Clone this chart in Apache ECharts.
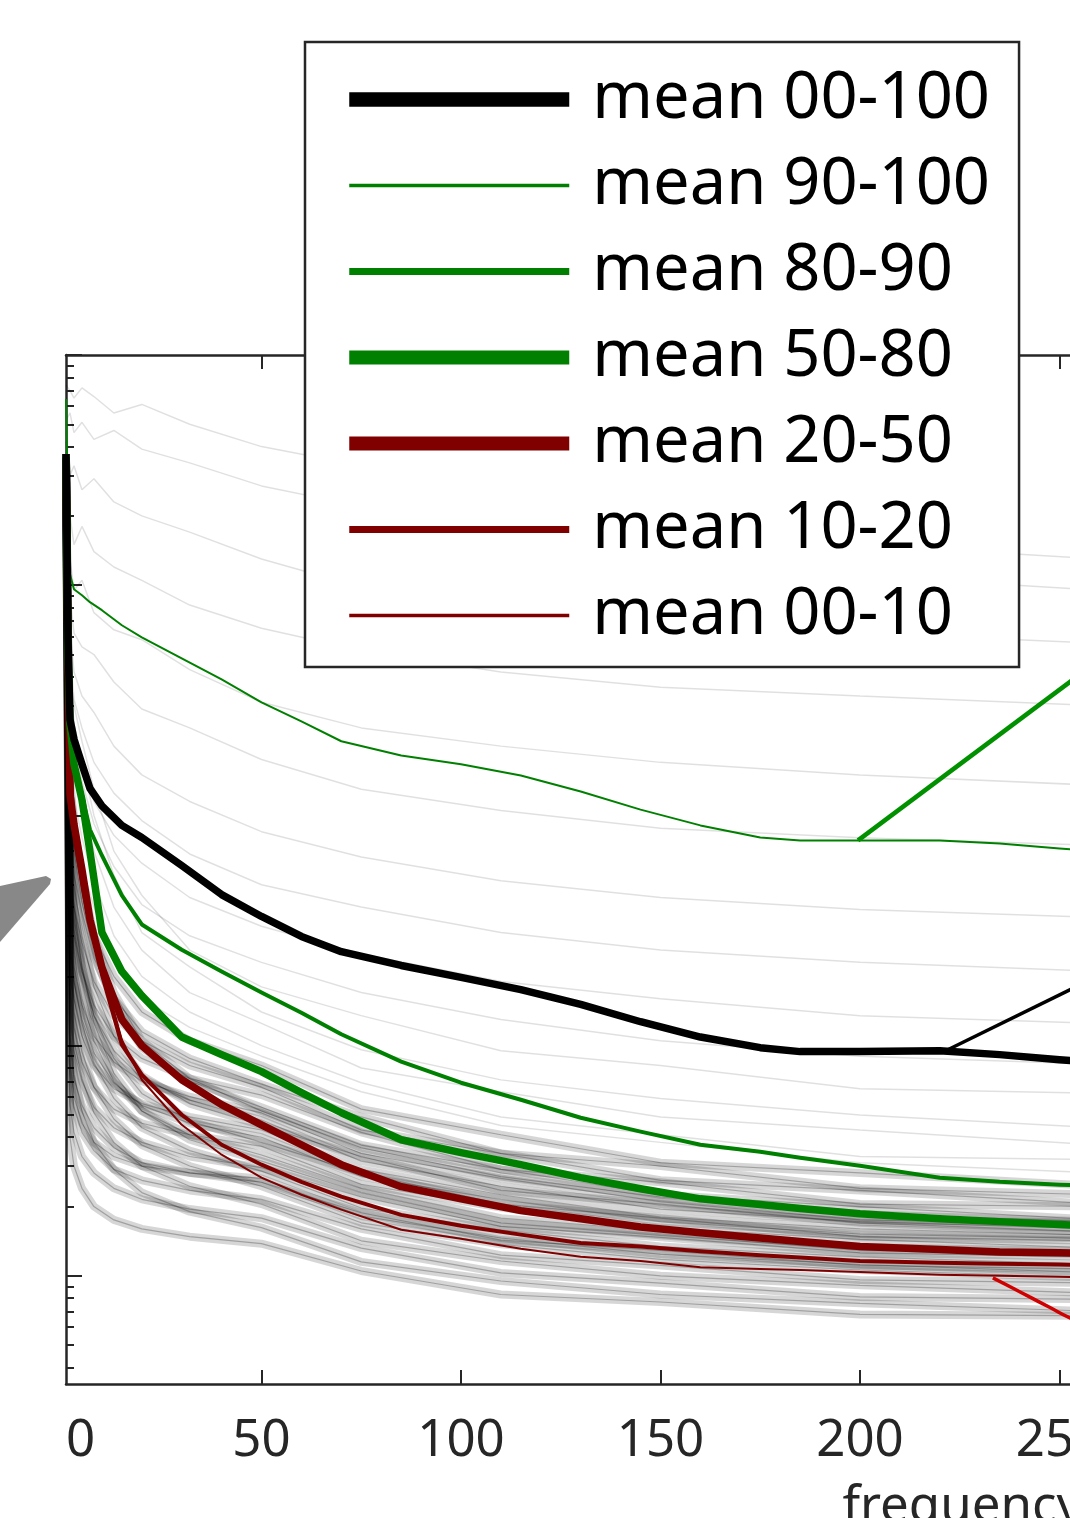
<!DOCTYPE html>
<html><head><meta charset="utf-8">
<script src="https://cdn.jsdelivr.net/npm/echarts@6/dist/echarts.min.js"></script>
<style>html,body{margin:0;padding:0;background:#fff}#c{width:1070px;height:1518px}</style>
</head><body><div id="c"></div>
<script>
// ---------- axis ticks ----------
const xTickValues = [1, 50, 100, 150, 200, 250, 300];
const xTickLabels = ['0', '50', '100', '150', '200', '250', '300'];
const xTickMarks = [50, 100, 150, 200, 250, 300];
const yMajorTicks = [1, 10, 100, 1000, 10000];
const yMinorTicks = [0.4, 0.5, 0.6, 0.7, 0.8, 0.9, 2, 3, 4, 5, 6, 7, 8, 9, 20, 30, 40, 50, 60, 70, 80, 90,
  200, 300, 400, 500, 600, 700, 800, 900, 2000, 3000, 4000, 5000, 6000, 7000, 8000, 9000];

// ---------- mean curves ----------
const freq = [1, 1.5, 2, 3, 5, 7, 10, 15, 20, 30, 40, 50, 60, 70, 85, 100, 115, 130, 145, 160, 175, 185, 200, 220, 235, 250, 270];
const mean00_100 = [3712, 582, 261, 214, 167, 131, 110, 90.5, 80.2, 60.6, 45.3, 36.4, 29.8, 25.6, 22.3, 19.8, 17.5, 15.1, 12.7, 10.9, 9.80, 9.42, 9.42, 9.51, 9.14, 8.69, 8.19];
const mean90_100 = [6440, 1936, 1116, 961, 904, 844, 779, 670, 594, 481, 390, 310, 256, 210, 182, 167, 149, 127, 106, 90.5, 80.2, 77.9, 77.9, 77.9, 75.6, 71.9, 67.0];
const mean80_90 = [3712, 582, 261, 175, 123, 86.9, 67.0, 44.9, 33.6, 26.1, 21.0, 17.0, 13.9, 11.2, 8.52, 6.90, 5.82, 4.86, 4.23, 3.71, 3.46, 3.26, 3.01, 2.67, 2.56, 2.49, 2.44];
const mean50_80 = [3712, 527, 249, 167, 117, 69.7, 31.0, 21.0, 16.5, 10.9, 9.14, 7.71, 6.25, 5.11, 3.90, 3.43, 3.04, 2.67, 2.39, 2.16, 2.04, 1.96, 1.86, 1.77, 1.72, 1.67, 1.62];
const mean20_50 = [3530, 527, 123, 91.4, 58.2, 35.3, 21.8, 13.0, 10.0, 7.11, 5.54, 4.53, 3.71, 3.04, 2.44, 2.16, 1.92, 1.77, 1.63, 1.54, 1.46, 1.41, 1.34, 1.30, 1.27, 1.26, 1.23];
const mean10_20 = [3530, 582, 175, 86.9, 55.4, 37.1, 20.4, 10.1, 7.48, 5.01, 3.71, 3.04, 2.56, 2.21, 1.84, 1.65, 1.51, 1.39, 1.34, 1.28, 1.23, 1.20, 1.16, 1.14, 1.13, 1.12, 1.105];
const mean00_10 = [3530, 477, 143, 78.6, 47.7, 31.9, 21.8, 10.6, 7.11, 4.53, 3.36, 2.67, 2.25, 1.94, 1.585, 1.45, 1.31, 1.21, 1.16, 1.09, 1.07, 1.06, 1.04, 1.01, 1.00, 0.99, 0.98];

// ---------- individual spectra (grey) ----------
const grayFreq = [1, 2, 3, 5, 8, 13, 20, 32, 50, 75, 110, 150, 200, 260, 300];
const g01 = [7400, 7000, 6500, 7200, 6600, 5600, 6100, 5000, 4000, 3300, 2600, 1900, 1500, 1300, 1200];
const g02 = [5200, 5600, 4600, 5100, 4300, 4700, 3900, 3400, 2700, 2200, 1700, 1350, 1100, 950, 880];
const g03 = [4200, 3000, 3300, 2600, 2900, 2300, 2000, 1700, 1300, 980, 800, 720, 620, 560, 540];
const g04 = [3800, 2000, 1500, 1800, 1400, 1200, 1050, 820, 650, 520, 420, 360, 330, 300, 290];
const g05 = [3600, 1300, 950, 1050, 760, 640, 580, 430, 310, 240, 200, 170, 150, 135, 128];
const g06 = [3600, 900, 620, 540, 500, 380, 290, 240, 175, 130, 105, 88, 80, 74, 70];
const g07 = [3500, 650, 420, 330, 280, 200, 150, 115, 85, 66, 52, 44, 39, 36, 34];
const g08 = [3500, 520, 320, 240, 170, 125, 95, 68, 50, 40, 31, 26, 23, 21, 20];
const g09 = [3500, 430, 250, 170, 115, 82, 62, 44, 33, 25, 19, 16, 13.5, 12.5, 12];
const g10 = [3500, 360, 210, 140, 92, 60, 41, 30, 23, 17, 13, 10.5, 9, 8.3, 8];
const m01 = [3500, 420, 300, 210, 130, 70, 45, 26, 18, 13.5, 9.5, 8.2, 6.5, 6.2, 5.6];
const m02 = [3400, 380, 250, 175, 100, 55, 31, 22, 14, 9.6, 7.1, 5.9, 5.0, 4.4, 4.3];
const m03 = [3600, 250, 160, 110, 70, 40, 26, 17, 12.5, 8.0, 6.3, 4.9, 4.3, 3.7, 3.6];
const m04 = [3500, 200, 120, 80, 52, 30, 20, 14, 10, 6.9, 4.9, 4.1, 3.3, 3.2, 3.0];
const m05 = [3400, 150, 95, 60, 40, 24, 16, 12, 9, 6.3, 4.5, 3.8, 3.1, 2.8, 2.7];
const m06 = [3500, 120, 75, 48, 30, 20, 14, 10.5, 8.2, 5.3, 4.1, 3.1, 2.8, 2.45, 2.4];
const m07 = [3600, 90, 55, 38, 24, 16, 11.5, 8.8, 6.8, 4.9, 3.4, 3.0, 2.4, 2.25, 2.1];
const m08 = [3500, 60, 40, 28, 19, 13.5, 10.5, 8.2, 6.6, 4.3, 3.4, 2.6, 2.35, 2.05, 2.0];
const m09 = [3400, 45, 30, 21, 15, 11, 8.8, 7.2, 6.1, 4.2, 2.9, 2.55, 2.05, 2.0, 1.9];
const m10 = [3500, 110, 70, 42, 25, 15, 9.8, 7.0, 5.4, 3.7, 2.9, 2.25, 2.0, 1.75, 1.75];
const m11 = [3600, 35, 22, 15, 11, 8.5, 7.0, 6.0, 5.1, 3.4, 2.65, 2.1, 1.75, 1.7, 1.6];
const m12 = [3500, 80, 50, 30, 18, 11, 7.4, 5.6, 4.5, 3.3, 2.35, 2.05, 1.7, 1.55, 1.52];
const m13 = [3400, 25, 16, 11, 8.2, 6.5, 5.6, 4.9, 4.3, 2.9, 2.25, 1.8, 1.6, 1.5, 1.42];
const m14 = [3500, 60, 36, 22, 13.5, 8.8, 6.2, 4.7, 3.8, 2.8, 2.05, 1.78, 1.48, 1.42, 1.35];
const m15 = [3600, 18, 12, 8.5, 6.6, 5.3, 4.6, 4.1, 3.65, 2.5, 1.98, 1.62, 1.44, 1.32, 1.28];
const m16 = [3500, 40, 25, 16, 10.5, 7.0, 5.2, 4.1, 3.35, 2.4, 1.78, 1.57, 1.33, 1.28, 1.22];
const m17 = [3400, 14, 9.5, 7.0, 5.4, 4.4, 3.8, 3.3, 2.95, 2.2, 1.64, 1.47, 1.26, 1.21, 1.15];
const m18 = [3500, 30, 19, 12.5, 8.4, 5.9, 4.4, 3.5, 2.85, 1.97, 1.58, 1.34, 1.21, 1.12, 1.09];
const m19 = [3600, 10, 7.2, 5.5, 4.4, 3.6, 3.1, 2.8, 2.55, 1.88, 1.43, 1.29, 1.11, 1.07, 1.02];
const m20 = [3500, 22, 14, 9.4, 6.6, 4.8, 3.7, 3.0, 2.45, 1.7, 1.37, 1.18, 1.06, 0.98, 0.96];
const m21 = [3400, 7.5, 5.4, 4.2, 3.5, 2.9, 2.6, 2.35, 2.15, 1.6, 1.23, 1.11, 0.96, 0.93, 0.89];
const m22 = [3500, 16, 10.5, 7.2, 5.1, 3.8, 3.0, 2.45, 2.05, 1.42, 1.16, 1.0, 0.91, 0.84, 0.82];
const m23 = [3600, 5.5, 4.2, 3.3, 2.8, 2.4, 2.15, 1.95, 1.78, 1.32, 1.03, 0.93, 0.81, 0.79, 0.75];
const m24 = [3500, 11, 7.5, 5.2, 3.8, 2.9, 2.3, 1.9, 1.62, 1.15, 0.95, 0.83, 0.76, 0.7, 0.69];
const m25 = [3400, 4.0, 3.0, 2.4, 2.0, 1.75, 1.6, 1.48, 1.38, 1.05, 0.83, 0.77, 0.68, 0.67, 0.64];
const m26 = [3500, 150, 90, 55, 30, 17, 10.5, 7.2, 5.2, 3.6, 2.7, 2.2, 1.85, 1.72, 1.68];
const m27 = [3450, 28, 19, 13, 9.3, 6.9, 5.5, 4.6, 4.0, 2.7, 2.15, 1.72, 1.52, 1.45, 1.38];
const m28 = [3550, 70, 40, 22, 12.5, 7.6, 5.2, 3.9, 3.15, 2.3, 1.7, 1.5, 1.3, 1.24, 1.18];
const m29 = [3500, 8.5, 6.0, 4.6, 3.8, 3.3, 3.0, 2.8, 2.65, 1.82, 1.46, 1.24, 1.12, 1.03, 0.99];
const m30 = [3600, 50, 32, 21, 13.5, 9.5, 7.2, 5.8, 4.75, 3.15, 2.45, 1.95, 1.72, 1.6, 1.55];
const lightLines = [g01, g02, g03, g04, g05, g06, g07, g08, g09, g10, m01, m02, m03, m04, m05];
const denseLines = [m06, m07, m08, m09, m10, m11, m12, m13, m14, m15, m16, m17, m18,
  m19, m20, m21, m22, m23, m24, m25, m26, m27, m28, m29, m30];

// ---------- annotation pointer lines (data coords) ----------
const pointerGreenX = [199.5, 285];
const pointerGreenY = [77.9, 1000];
const pointerBlackX = [222, 285];
const pointerBlackY = [9.6, 33];
const pointerRedX = [233.3, 238, 242.5, 247.5, 252.6, 270];
const pointerRedY = [0.98, 0.89, 0.81, 0.73, 0.657, 0.5];

const pairs = (xs, ys) => xs.map((x, i) => [x, ys[i]]);

const series = [];
lightLines.forEach(arr => series.push({
  type: 'line', data: pairs(grayFreq, arr), symbol: 'none', silent: true, z: 1,
  lineStyle: { color: '#000', width: 1.5, opacity: 0.12 }
}));
denseLines.forEach(arr => series.push({
  type: 'line', data: pairs(grayFreq, arr), symbol: 'none', silent: true, z: 1,
  lineStyle: { color: '#000', width: 8, opacity: 0.16 }
}));
denseLines.forEach(arr => series.push({
  type: 'line', data: pairs(grayFreq, arr), symbol: 'none', silent: true, z: 1,
  lineStyle: { color: '#000', width: 1.2, opacity: 0.25 }
}));

const means = [
  { name: 'mean 00-10', vals: mean00_10, color: '#800000', w: 2, lw: 3.6 },
  { name: 'mean 10-20', vals: mean10_20, color: '#800000', w: 4, lw: 7 },
  { name: 'mean 20-50', vals: mean20_50, color: '#800000', w: 7.5, lw: 14 },
  { name: 'mean 50-80', vals: mean50_80, color: '#008000', w: 7.5, lw: 14 },
  { name: 'mean 80-90', vals: mean80_90, color: '#008000', w: 4, lw: 7 },
  { name: 'mean 90-100', vals: mean90_100, color: '#008000', w: 2, lw: 3.4 },
  { name: 'mean 00-100', vals: mean00_100, color: '#000000', w: 7.5, lw: 14.5 }
];
means.forEach(m => series.push({
  type: 'line', name: m.name, data: pairs(freq, m.vals), symbol: 'none', z: 3,
  color: m.color, lineStyle: { color: m.color, width: m.w, join: 'round' }
}));

series.push({ type: 'line', data: pairs(pointerGreenX, pointerGreenY), symbol: 'none', silent: true, z: 4,
  lineStyle: { color: '#009000', width: 4.5 } });
series.push({ type: 'line', data: pairs(pointerBlackX, pointerBlackY), symbol: 'none', silent: true, z: 4,
  lineStyle: { color: '#000', width: 3.5 } });
series.push({ type: 'line', data: pairs(pointerRedX, pointerRedY), symbol: 'none', silent: true, z: 4, smooth: true,
  lineStyle: { color: '#d00000', width: 3.5 } });

const legendOrder = ['mean 00-100', 'mean 90-100', 'mean 80-90', 'mean 50-80', 'mean 20-50', 'mean 10-20', 'mean 00-10'];
const legendData = legendOrder.map(n => {
  const m = means.find(q => q.name === n);
  return { name: n, lineStyle: { color: m.color, width: m.lw, opacity: 1 }, itemStyle: { opacity: 0 } };
});

const axisColor = '#262626';
const font = 'Noto Sans';

const chart = echarts.init(document.getElementById('c'), null, { renderer: 'canvas' });
chart.setOption({
  animation: false,
  backgroundColor: '#fff',
  grid: { left: 66, top: 355, width: 1193, bottom: 134, containLabel: false, outerBoundsMode: 'none' },
  legend: {
    data: legendData,
    orient: 'vertical', left: 305, top: 42,
    padding: [25, 29, 19, 37],
    itemWidth: 220, itemHeight: 65, itemGap: 21,
    backgroundColor: '#fff', borderColor: axisColor, borderWidth: 2.5,
    itemStyle: { opacity: 0 },
    textStyle: { fontFamily: font, fontSize: 65, color: '#000', padding: [0, 0, 0, 18] },
    selectedMode: false
  },
  xAxis: [{
    type: 'value', min: 1, max: 300, position: 'bottom',
    name: 'frequency', nameLocation: 'middle', nameGap: 98,
    nameTextStyle: { fontFamily: font, fontSize: 51, color: axisColor, align: 'left', padding: [0, 0, 0, 180] },
    axisLine: { show: true, lineStyle: { color: axisColor, width: 2.5 } },
    axisTick: { show: true, inside: true, length: 14, customValues: xTickMarks, lineStyle: { color: axisColor, width: 2 } },
    axisLabel: { show: true, customValues: xTickValues, alignMinLabel: 'left', margin: 32,
      fontFamily: font, fontSize: 51, color: axisColor,
      formatter: v => xTickLabels[xTickValues.indexOf(v)] },
    splitLine: { show: false }
  }, {
    type: 'value', min: 1, max: 300, position: 'top',
    axisLine: { show: true, lineStyle: { color: axisColor, width: 2.5 } },
    axisTick: { show: true, inside: true, length: 14, customValues: xTickMarks, lineStyle: { color: axisColor, width: 2 } },
    axisLabel: { show: false }, splitLine: { show: false }
  }],
  yAxis: [{
    type: 'log', logBase: 10, min: 0.339, max: 10000, position: 'left',
    axisLine: { show: true, lineStyle: { color: axisColor, width: 2.5 } },
    axisTick: { show: true, inside: true, length: 16, customValues: yMajorTicks, lineStyle: { color: axisColor, width: 2 } },
    axisLabel: { show: false }, splitLine: { show: false }, minorTick: { show: false }
  }, {
    type: 'log', logBase: 10, min: 0.339, max: 10000, position: 'left', offset: 0,
    axisLine: { show: false },
    axisTick: { show: true, inside: true, length: 8, customValues: yMinorTicks, lineStyle: { color: axisColor, width: 2 } },
    axisLabel: { show: false }, splitLine: { show: false }
  }],
  graphic: [{
    type: 'polygon', silent: true,
    shape: { points: [[0, 886], [46, 876], [51, 879], [50, 884], [0, 942]] },
    style: { fill: '#888888' }
  }],
  series: series
});
</script></body></html>
